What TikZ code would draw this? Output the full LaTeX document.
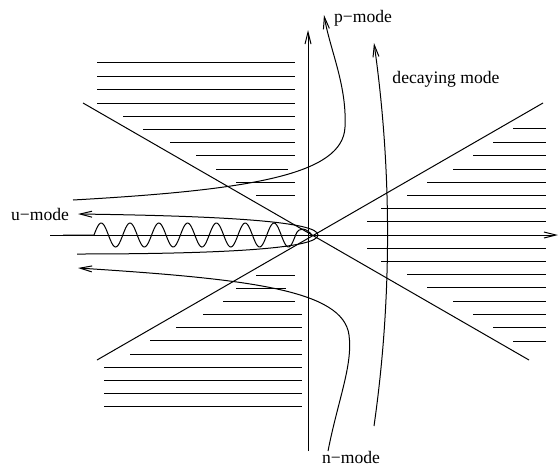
\documentclass[tikz,border=0pt]{standalone}
\usepackage{fontspec}
\setmainfont{Liberation Serif}
\usetikzlibrary{arrows.meta}

\begin{document}
\begin{tikzpicture}[
  x=0.5pt, y=-0.5pt,
  curve/.style={line width=0.5pt},
  hatch/.style={line width=0.5pt},
  arrow/.style={-{Straight Barb[length=6pt,width=3pt]}},
  modelabel/.style={font=\fontsize{8.8}{10}\selectfont, inner sep=0pt}
]
\useasboundingbox (0,0) rectangle (560,466);

% axes
\coordinate (xstart) at (50,235);
\coordinate (xend) at (558,235);
\coordinate (ystart) at (308,451);
\coordinate (yend) at (308,30);
\draw[curve, arrow] (xstart) -- (xend);
\draw[curve, arrow] (ystart) -- (yend);

% turning-point lines
\coordinate (ul) at (83,103);
\coordinate (lr) at (529,360);
\coordinate (ll) at (97,360);
\coordinate (ur) at (543,103);
\draw[curve] (ul) -- (lr);
\draw[curve] (ll) -- (ur);

% hatched regions
\foreach \y/\xa/\xb in {62/97/295, 76/97/295, 89/97/295, 103/97/295,
    116/123/295, 129/143/295, 142/170/295, 155/196/295, 169/216/288,
    182/236/295, 195/256/295}
  \draw[hatch] (\xa,\y) -- (\xb,\y);
\foreach \y/\xa/\xb in {275/256/295, 288/236/286, 301/223/295,
    314/203/302, 327/176/302, 340/150/302, 354/130/302, 367/104/302,
    380/104/302, 393/104/302, 406/104/302}
  \draw[hatch] (\xa,\y) -- (\xb,\y);
\foreach \y/\xa in {128/513, 142/493, 155/473, 169/453, 182/427,
    195/407, 208/381, 221/367}
  \draw[hatch] (\xa,\y) -- (546,\y);
\foreach \y/\xa in {248/367, 261/381, 274/407, 287/427, 301/453,
    314/473, 327/493, 341/513}
  \draw[hatch] (\xa,\y) -- (546,\y);

% labels
\node[modelabel] (umode) at (40,214) {u−mode};
\node[modelabel] (pmode) at (363,18) {p−mode};
\node[modelabel] (nmode) at (351,457) {n−mode};
\node[modelabel] (dmode) at (446,79) {decaying mode};

% oscillating solution
\draw[curve] (63,235) -- (94,235)
  -- plot[domain=0:201.6, samples=160, smooth] ({94+\x}, {235-12*sin(\x/28.8*360)})
  .. controls (299,226) and (306,228) .. (312,235);

% u-mode loop
\draw[curve, arrow] (77,254) .. controls (230,254) and (318,248) .. (318,235)
  .. controls (318,222) and (230,216) .. (78,214);

% p-mode
\draw[curve, arrow] (73,200) .. controls (250,190) and (343,175) .. (345,127)
  .. controls (347,85) and (330,50) .. (324,15);

% n-mode
\draw[curve, arrow] (328,451) .. controls (338,400) and (353,365) .. (349,335)
  .. controls (343,290) and (250,279) .. (78,268);

% decaying mode
\draw[curve, arrow] (374,426) .. controls (392,300) and (392,170) .. (374,43);
\end{tikzpicture}
\end{document}
